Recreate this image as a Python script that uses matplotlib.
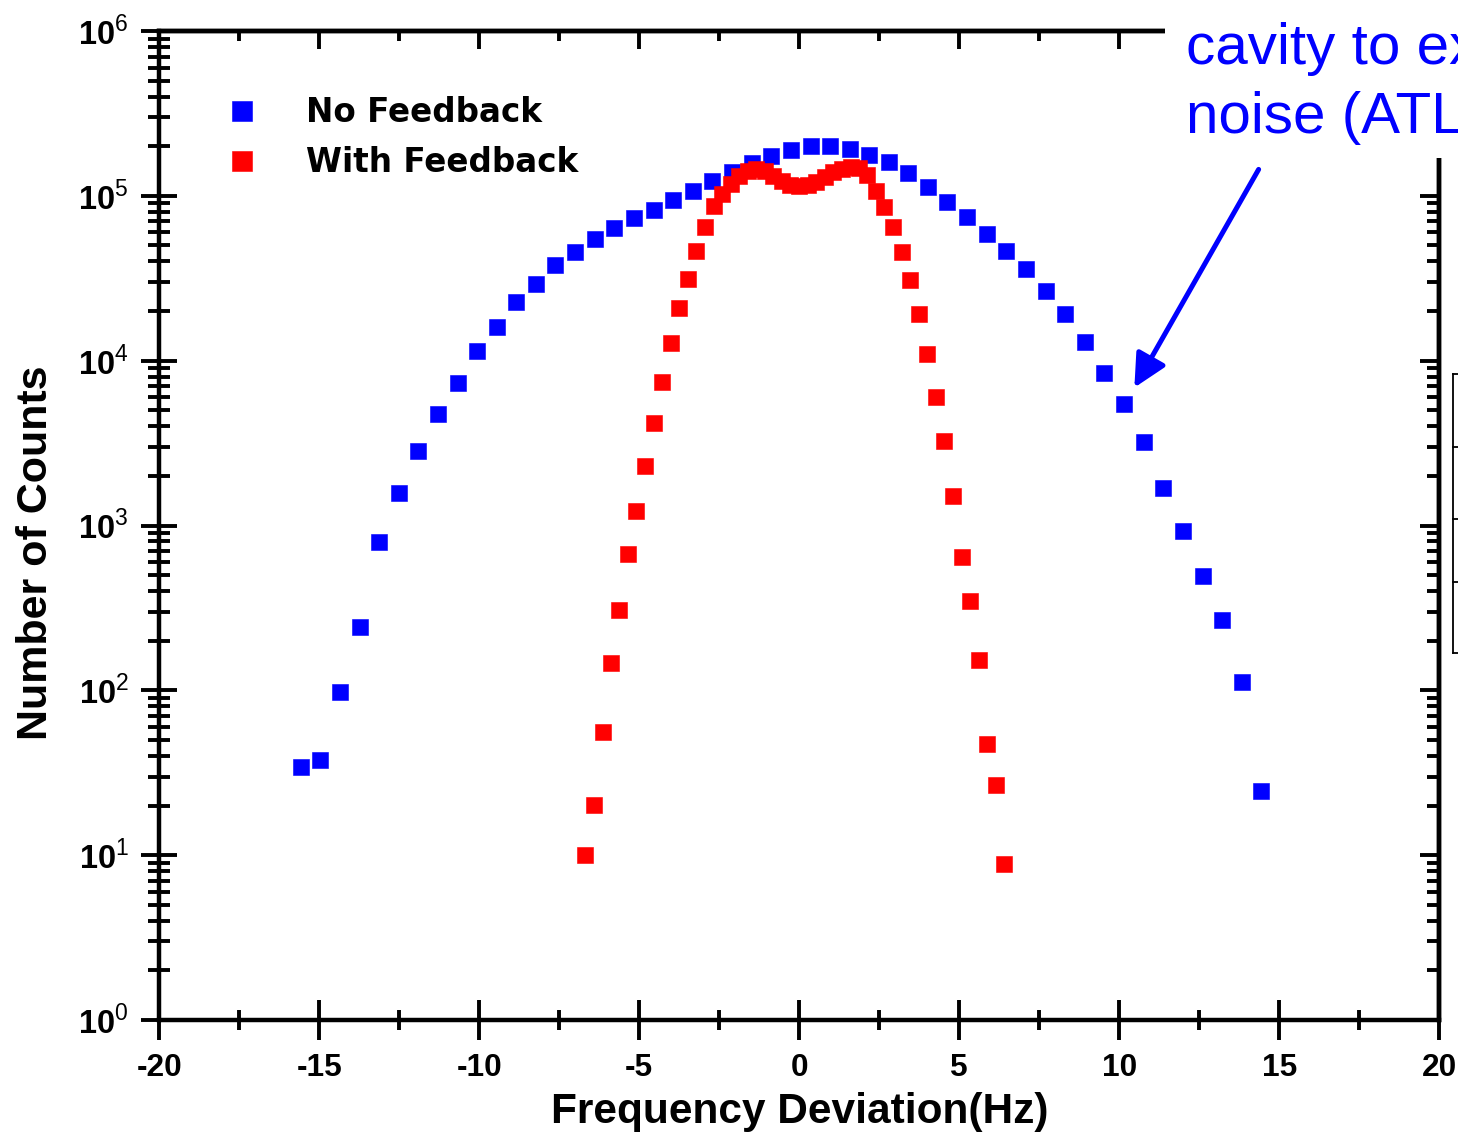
import math
import matplotlib
matplotlib.use("Agg")
import matplotlib.pyplot as plt
from matplotlib.ticker import FixedLocator, MultipleLocator, FuncFormatter, LogLocator, NullFormatter
from matplotlib.patches import Rectangle, FancyArrowPatch
from matplotlib.lines import Line2D

# ---------------- data ----------------
no_fb_x = [-15.58, -14.97, -14.35, -13.74, -13.13, -12.52, -11.90, -11.29, -10.68, -10.07,
           -9.45, -8.84, -8.23, -7.62, -7.00, -6.39, -5.78, -5.17, -4.55, -3.94,
           -3.33, -2.72, -2.10, -1.49, -0.88, -0.27, 0.35, 0.96, 1.57, 2.18,
           2.80, 3.41, 4.02, 4.63, 5.25, 5.86, 6.47, 7.08, 7.70, 8.31,
           8.92, 9.53, 10.15, 10.76, 11.37, 11.98, 12.60, 13.21, 13.82, 14.43]
no_fb_counts = [34.2, 37.6, 97.7, 243, 792, 1570, 2837, 4773, 7360, 11500,
                16070, 22790, 29290, 38180, 45800, 54850, 63970, 73560, 82250, 94580,
                107200, 123300, 139700, 158500, 174700, 190000, 200900, 200900, 192700, 177100,
                160700, 137800, 113400, 92000, 74600, 58880, 46400, 36110, 26570, 19270,
                13040, 8460, 5487, 3230, 1700, 920, 491, 266, 113, 24.4]

fb_x = [-6.69, -6.42, -6.15, -5.89, -5.62, -5.35, -5.09, -4.82, -4.55, -4.28,
        -4.02, -3.75, -3.48, -3.22, -2.95, -2.68, -2.41, -2.15, -1.88, -1.61,
        -1.35, -1.08, -0.81, -0.54, -0.28, -0.01, 0.26, 0.53, 0.79, 1.06,
        1.33, 1.60, 1.86, 2.13, 2.40, 2.66, 2.93, 3.20, 3.47, 3.73,
        4.00, 4.27, 4.53, 4.80, 5.07, 5.34, 5.60, 5.87, 6.14, 6.40]
fb_counts = [10.0, 20.1, 55.9, 147, 308, 667, 1222, 2287, 4169, 7430,
             12850, 20950, 31400, 46400, 64900, 86400, 102800, 118300, 132200, 141800,
             145800, 141800, 132200, 123300, 116600, 115000, 116600, 121600, 130400, 139700,
             145800, 149900, 147800, 134100, 107200, 85800, 64900, 45800, 30970, 19270,
             11030, 5995, 3262, 1507, 646, 350, 153, 47.0, 26.6, 8.9]

series_labels = ["No Feedback", "With Feedback"]
series_colors = ["#0000FF", "#FF0000"]
x_ticks = [-20, -15, -10, -5, 0, 5, 10, 15, 20]
y_ticks = [1, 10, 100, 1000, 10000, 100000, 1000000]
x_label = "Frequency Deviation(Hz)"
y_label = "Number of Counts"
note_lines = ["cavity to ex", "noise (ATL"]

# ---------------- style ----------------
plt.rcParams['font.family'] = ['Liberation Sans', 'DejaVu Sans']
plt.rcParams['axes.unicode_minus'] = False
plt.rcParams['mathtext.fontset'] = 'custom'
plt.rcParams['mathtext.rm'] = 'Liberation Sans'
plt.rcParams['mathtext.bf'] = 'Liberation Sans:bold'

W, H = 1458, 1138
fig = plt.figure(figsize=(W / 100, H / 100), dpi=100)
fig.patch.set_facecolor('white')

L, R, T, B = 159.3, 1439.3, 31.0, 1020.0
ax = fig.add_axes([L / W, 1 - B / H, (R - L) / W, (B - T) / H])
ax.set_xscale('linear')
ax.set_yscale('log')
ax.set_xlim(-20, 20)
ax.set_ylim(1, 1e6)

ms = 11.5
ax.plot(no_fb_x, no_fb_counts, ls='none', marker='s', ms=ms, color=series_colors[0],
        mec=series_colors[0], mew=0.4, label=series_labels[0], zorder=3)
ax.plot(fb_x, fb_counts, ls='none', marker='s', ms=ms, color=series_colors[1],
        mec=series_colors[1], mew=0.4, label=series_labels[1], zorder=3)

# spines
for s in ax.spines.values():
    s.set_linewidth(3.2)

# ticks (left / bottom: in-out)
ax.xaxis.set_major_locator(FixedLocator(x_ticks))
ax.xaxis.set_minor_locator(MultipleLocator(2.5))
ax.yaxis.set_major_locator(FixedLocator(y_ticks))
ax.yaxis.set_minor_locator(LogLocator(base=10, subs=[2, 3, 4, 5, 6, 7, 8, 9], numticks=20))
ax.yaxis.set_minor_formatter(NullFormatter())
ax.xaxis.set_major_formatter(FuncFormatter(lambda v, p: f"{int(round(v))}"))
ax.yaxis.set_major_formatter(FuncFormatter(
    lambda v, p: r"$\mathbf{10}^{\mathrm{%d}}$" % int(round(math.log10(v)))))

ax.tick_params(axis='both', which='both', direction='inout', width=2.8, top=False, right=False)
ax.tick_params(axis='x', which='major', length=28.8, pad=9.0, labelsize=22.8)
ax.tick_params(axis='x', which='minor', length=15.1)
ax.tick_params(axis='y', which='major', length=25.9, pad=9.0, labelsize=23.5)
ax.tick_params(axis='y', which='minor', length=15.8)
for lab in ax.get_xticklabels() + ax.get_yticklabels():
    lab.set_fontweight('bold')

# top / right: inward ticks
secx = ax.secondary_xaxis('top')
secx.xaxis.set_major_locator(FixedLocator(x_ticks))
secx.xaxis.set_minor_locator(MultipleLocator(2.5))
secx.tick_params(axis='x', which='both', direction='in', width=2.8, labeltop=False)
secx.tick_params(axis='x', which='major', length=13.0)
secx.tick_params(axis='x', which='minor', length=7.2)
secx.spines['top'].set_linewidth(3.2)

secy = ax.secondary_yaxis('right')
secy.yaxis.set_major_locator(FixedLocator(y_ticks))
secy.yaxis.set_minor_locator(LogLocator(base=10, subs=[2, 3, 4, 5, 6, 7, 8, 9], numticks=20))
secy.tick_params(axis='y', which='both', direction='in', width=2.8, labelright=False)
secy.tick_params(axis='y', which='major', length=13.7)
secy.tick_params(axis='y', which='minor', length=8.6)
secy.yaxis.set_major_formatter(NullFormatter())
secy.yaxis.set_minor_formatter(NullFormatter())
secy.spines['right'].set_linewidth(3.2)

# labels
ax.set_xlabel(x_label, fontsize=30.5, fontweight='bold')
ax.set_ylabel(y_label, fontsize=31, fontweight='bold')
ax.xaxis.set_label_coords(0.5, (B - 1092) / (B - T))
ax.yaxis.set_label_coords((56 - L) / (R - L), (B - 553) / (B - T))

# legend
fs_leg = 23.5
fs_px = fs_leg * 100 / 72
leg = ax.legend(loc='upper left',
                bbox_to_anchor=((241.7 - fs_px - L) / (R - L), (B - 96.5) / (B - T)),
                frameon=False, borderpad=0, borderaxespad=0,
                handlelength=2.0, handletextpad=0.97, labelspacing=0.52, markerscale=1.25,
                prop={'family': 'DejaVu Sans', 'weight': 'bold', 'size': fs_leg})

# white overlay box with annotation text (top-right)
fig.add_artist(Rectangle((1165 / W, 1 - 158 / H), (W - 1165) / W, 158 / H,
                         transform=fig.transFigure, facecolor='white', edgecolor='none', zorder=10))
fig.text(1186 / W, 1 - 64 / H, note_lines[0], fontsize=42, color='#0000FF',
         ha='left', va='baseline', zorder=11)
fig.text(1186 / W, 1 - 133 / H, note_lines[1], fontsize=42, color='#0000FF',
         ha='left', va='baseline', zorder=11)

# arrow
arr = FancyArrowPatch((1260 / W, 1 - 167 / H), (1133 / W, 1 - 390 / H),
                      transform=fig.transFigure, arrowstyle='-|>,head_length=0.5,head_width=0.25',
                      mutation_scale=40, lw=3.6, color='#0000FF', zorder=12)
fig.add_artist(arr)

# partial box at right edge
xr = 1453
fig.add_artist(Line2D([xr / W, xr / W], [1 - 374 / H, 1 - 653 / H], transform=fig.transFigure,
                      color='black', lw=1.3, zorder=12))
for yy in [374, 447, 519, 582, 653]:
    fig.add_artist(Line2D([xr / W, 1.0], [1 - yy / H, 1 - yy / H], transform=fig.transFigure,
                          color='black', lw=1.3, zorder=12))

fig.savefig('out.png', dpi=100)
